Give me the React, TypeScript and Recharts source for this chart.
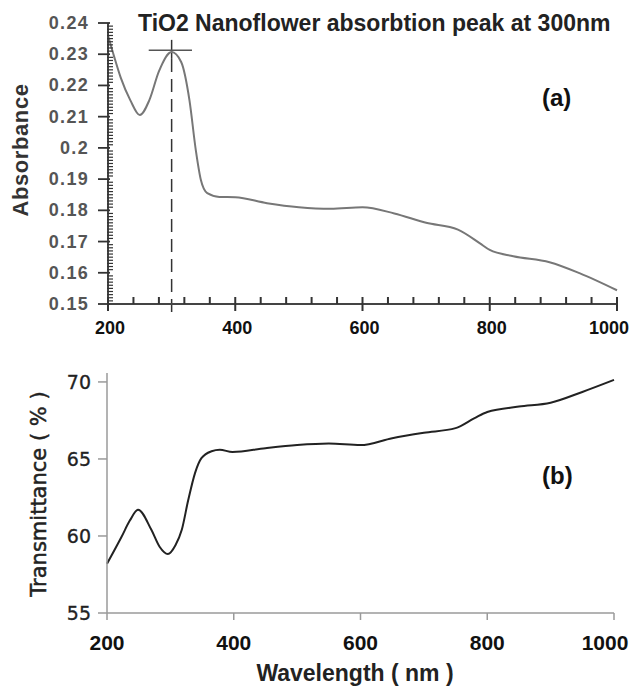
import { Line, LineChart, ReferenceLine, XAxis, YAxis } from 'recharts';

// (a) absorbance spectrum
const wavelengthA = [200, 210, 220, 235, 250, 265, 280, 300, 315, 328, 338, 346, 356, 375, 400, 450, 500, 550, 600, 650, 700, 750, 784, 800, 837, 894, 941, 1000];
const absorbance = [0.236, 0.229, 0.2225, 0.2153, 0.2105, 0.2153, 0.2245, 0.2307, 0.2275, 0.2153, 0.1993, 0.1897, 0.1855, 0.1843, 0.1842, 0.1823, 0.181, 0.1805, 0.181, 0.179, 0.176, 0.1738, 0.1695, 0.1673, 0.1653, 0.1634, 0.1599, 0.1544];

// (b) transmittance spectrum
const wavelengthB = [200, 223, 236, 249, 270, 283, 296, 308, 318, 328, 339, 349, 365, 378, 398, 450, 500, 550, 600, 650, 700, 750, 780, 800, 850, 900, 950, 1000];
const transmittance = [58.2, 59.95, 61.0, 61.7, 60.4, 59.3, 58.83, 59.4, 60.4, 62.3, 64.1, 65.05, 65.5, 65.6, 65.45, 65.7, 65.9, 66.0, 65.9, 66.35, 66.7, 67.0, 67.65, 68.05, 68.4, 68.65, 69.35, 70.13];

const xTickLabels = [200, 400, 600, 800, 1000];
const absTickLabels = [0.15, 0.16, 0.17, 0.18, 0.19, 0.2, 0.21, 0.22, 0.23, 0.24];
const transTickLabels = [55, 60, 65, 70];

const peakWavelength = 300;
const peakAbsorbance = 0.2313;

const dataA = wavelengthA.map((w, i) => ({ w, a: absorbance[i] }));
const dataB = wavelengthB.map((w, i) => ({ w, t: transmittance[i] }));

// minor ticks: every 40 nm on x, every 0.001 on absorbance
const xMinor: number[] = [];
for (let v = 200; v <= 1000; v += 40) xMinor.push(v);
const yMinor: number[] = [];
for (let k = 150; k <= 240; k++) yMinor.push(k / 1000);

const arial = '"Liberation Sans", Arial, sans-serif';
const dejavu = '"DejaVu Sans", Verdana, sans-serif';
const axisA = '#444';
const axisB = '#9a9a9a';

const AbsXTick = (props: any) => {
  const { x, y, payload } = props;
  const major = xTickLabels.includes(payload.value);
  const last = payload.value === 1000;
  return (
    <g>
      <line x1={x} x2={x} y1={y - 7} y2={major ? y + 7 : y} stroke="#333" strokeWidth={2} />
      {major && (
        <text x={last ? x - 8 : x + 2} y={y + 30} textAnchor="middle" fontFamily={arial} fontWeight="bold" fontSize={18} fill="#111">
          {payload.value}
        </text>
      )}
    </g>
  );
};

const AbsYTick = (props: any) => {
  const { x, y, payload } = props;
  const major = absTickLabels.some((m) => Math.abs(m - payload.value) < 1e-6);
  return (
    <g>
      <line x1={major ? x - 10 : x - 1} x2={x + (major ? 2 : 5)} y1={y} y2={y} stroke="#333" strokeWidth={major ? 1.8 : 1.2} />
      {major && (
        <text x={x - 19} y={y + 6} textAnchor="end" fontFamily={arial} fontWeight="bold" fontSize={18} letterSpacing={1.3} fill="#555">
          {String(Number(payload.value.toFixed(2)))}
        </text>
      )}
    </g>
  );
};

const TransXTick = (props: any) => {
  const { x, y, payload } = props;
  const last = payload.value === 1000;
  return (
    <g>
      <line x1={x} x2={x} y1={y} y2={y + 7} stroke={axisB} strokeWidth={1.5} />
      <text x={last ? x - 9 : x} y={y + 37} textAnchor="middle" fontFamily={arial} fontWeight="bold" fontSize={21} fill="#111">
        {payload.value}
      </text>
    </g>
  );
};

const TransYTick = (props: any) => {
  const { x, y, payload } = props;
  return (
    <g>
      <line x1={x - 9} x2={x} y1={y} y2={y} stroke={axisB} strokeWidth={1.5} />
      <text x={x - 16} y={y + 7} textAnchor="end" fontFamily={dejavu} fontSize={19} fill="#222" stroke="#222" strokeWidth={0.3}>
        {payload.value}
      </text>
    </g>
  );
};

const abs = (top: number, left: number, extra: any = {}) => ({ position: 'absolute' as const, top, left, whiteSpace: 'nowrap' as const, ...extra });

export default function App() {
  return (
    <div style={{ position: 'absolute', left: 0, top: 0, width: 633, height: 686, background: '#fff', overflow: 'hidden' }}>
      <div style={abs(0, 0)}>
        <LineChart width={633} height={345} data={dataA} margin={{ top: 23, right: 16, left: 0, bottom: 0 }}>
          <XAxis
            dataKey="w"
            type="number"
            domain={[200, 1000]}
            ticks={xMinor}
            interval={0}
            tick={<AbsXTick />}
            tickLine={false}
            tickSize={0}
            tickMargin={0}
            height={41}
            stroke={axisA}
            strokeWidth={2}
          />
          <YAxis
            type="number"
            domain={[0.15, 0.24]}
            ticks={yMinor}
            interval={0}
            tick={<AbsYTick />}
            tickLine={false}
            tickSize={0}
            tickMargin={0}
            width={108}
            stroke={axisA}
            strokeWidth={2}
            allowDataOverflow
          />
          <ReferenceLine
            segment={[{ x: peakWavelength, y: 0.2346 }, { x: peakWavelength, y: 0.2285 }]}
            stroke="#333"
            strokeWidth={1.5}
            ifOverflow="visible"
          />
          <ReferenceLine
            segment={[{ x: peakWavelength, y: 0.2285 }, { x: peakWavelength, y: 0.1458 }]}
            stroke="#333"
            strokeWidth={1.5}
            strokeDasharray="13 7"
            ifOverflow="visible"
          />
          <ReferenceLine
            segment={[{ x: 264, y: peakAbsorbance }, { x: 332, y: peakAbsorbance }]}
            stroke="#555"
            strokeWidth={1.5}
            ifOverflow="visible"
          />
          <Line type="monotone" dataKey="a" stroke="#777" strokeWidth={2} dot={false} isAnimationActive={false} />
        </LineChart>
      </div>

      <div style={abs(340, 0)}>
        <LineChart width={633} height={346} data={dataB} margin={{ top: 33, right: 19, left: 0, bottom: 0 }}>
          <XAxis
            dataKey="w"
            type="number"
            domain={[200, 1000]}
            ticks={xTickLabels}
            interval={0}
            tick={<TransXTick />}
            tickLine={false}
            tickSize={0}
            tickMargin={0}
            height={73}
            stroke={axisB}
            strokeWidth={1.5}
          />
          <YAxis
            type="number"
            domain={[55, 70.58]}
            ticks={transTickLabels}
            interval={0}
            tick={<TransYTick />}
            tickLine={false}
            tickSize={0}
            tickMargin={0}
            width={107}
            stroke={axisB}
            strokeWidth={1.5}
          />
          <Line type="monotone" dataKey="t" stroke="#222" strokeWidth={2} dot={false} isAnimationActive={false} />
        </LineChart>
      </div>

      <div style={abs(10, 138, { fontFamily: arial, fontWeight: 'bold', fontSize: 23, color: '#222' })}>
        TiO2 Nanoflower absorbtion peak at 300nm
      </div>
      <div style={abs(84, 542, { fontFamily: arial, fontWeight: 'bold', fontSize: 24, color: '#111' })}>(a)</div>
      <div style={abs(462, 542, { fontFamily: arial, fontWeight: 'bold', fontSize: 24, color: '#111' })}>(b)</div>
      <div
        style={abs(150, 21, {
          fontFamily: arial,
          fontWeight: 'bold',
          fontSize: 22,
          letterSpacing: 0.6,
          color: '#333',
          transform: 'translate(-50%, -50%) rotate(-90deg)',
        })}
      >
        Absorbance
      </div>
      <div
        style={abs(494, 39, {
          fontFamily: dejavu,
          fontSize: 21,
          color: '#222',
          WebkitTextStroke: '0.5px #222',
          transform: 'translate(-50%, -50%) rotate(-90deg)',
        })}
      >
        Transmittance ( % )
      </div>
      <div style={abs(673, 355, { fontFamily: arial, fontWeight: 'bold', fontSize: 23, color: '#222', transform: 'translate(-50%, -50%)' })}>
        Wavelength ( nm )
      </div>
    </div>
  );
}
